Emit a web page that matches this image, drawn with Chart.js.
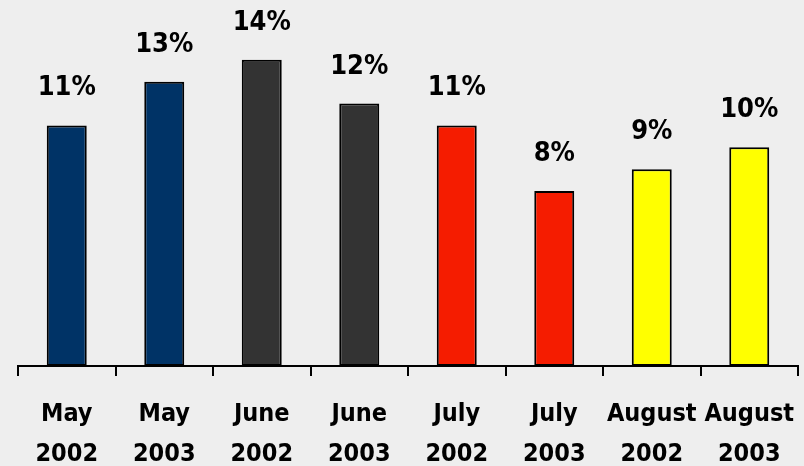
<!DOCTYPE html>
<html>
<head>
<meta charset="utf-8">
<script src="https://cdn.jsdelivr.net/npm/chart.js@4"></script>
<style>
  html, body { margin: 0; padding: 0; background: #eeeeee; }
  #wrap { width: 804px; height: 466px; }
</style>
</head>
<body>
<div id="wrap"><canvas id="myChart" width="804" height="466"></canvas></div>
<script>
// Dados
const months = ["May", "May", "June", "June", "July", "July", "August", "August"];
const years = ["2002", "2003", "2002", "2003", "2002", "2003", "2002", "2003"];
const values = [11, 13, 14, 12, 11, 8, 9, 10];
const barColors = ["#003366", "#003366", "#333333", "#333333", "#f51c00", "#f51c00", "#ffff00", "#ffff00"];

const FONT = "'DejaVu Sans Condensed', 'DejaVu Sans', sans-serif";

// rótulos de valor em cima das barras
const valueLabels = {
    id: 'valueLabels',
    afterDatasetsDraw(chart) {
        const ctx = chart.ctx;
        const meta = chart.getDatasetMeta(0);
        ctx.save();
        ctx.font = "bold 27px " + FONT;
        ctx.fillStyle = "#000";
        ctx.textAlign = "center";
        ctx.textBaseline = "alphabetic";
        meta.data.forEach((bar, i) => {
            ctx.fillText(values[i] + "%", bar.x, bar.y - 30);
        });
        ctx.restore();
    }
};

const ctx = document.getElementById('myChart').getContext('2d');
new Chart(ctx, {
    type: 'bar',
    data: {
        labels: months.map((m, i) => [m, years[i]]),
        datasets: [{
            data: values,
            backgroundColor: barColors,
            borderColor: '#000',
            borderWidth: 2,
            borderSkipped: false,
            barPercentage: 0.41,
            categoryPercentage: 1
        }]
    },
    options: {
        responsive: false,
        animation: false,
        layout: { padding: { left: 18, right: 6, top: 16, bottom: 0 } },
        plugins: { legend: { display: false }, tooltip: { enabled: false } },
        scales: {
            x: {
                offset: true,
                grid: { offset: true, drawOnChartArea: false, tickLength: 10, color: '#000', lineWidth: 2 },
                border: { color: '#000', width: 2 },
                ticks: { color: '#000', padding: 18, font: { family: FONT, size: 25, weight: 'bold', lineHeight: 1.6 } },
                afterFit(scale) {
                    scale.height = 100;
                    scale.paddingLeft = 0;
                    scale.paddingRight = 0;
                }
            },
            y: {
                display: false,
                min: 0,
                max: 16
            }
        }
    },
    plugins: [valueLabels]
});
</script>
</body>
</html>
